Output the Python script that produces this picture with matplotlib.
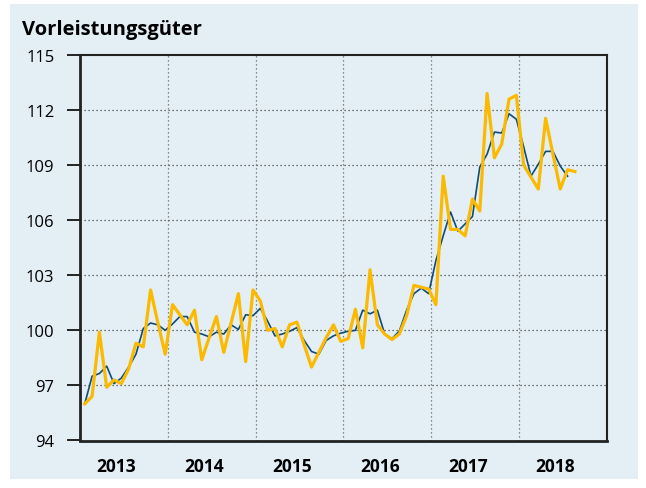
import numpy as np
import matplotlib.pyplot as plt
from matplotlib.patches import Rectangle

# monthly values, Jan 2013 .. Aug 2018 (yellow) and Jan 2013 .. Jul 2018 (blue)
monthly = [96.0, 96.4, 99.9, 96.9, 97.3, 97.1, 97.9, 99.3, 99.1, 102.2, 100.4, 98.7,
           101.4, 100.85, 100.3, 101.1, 98.4, 99.6, 100.75, 98.8, 100.4, 102.0, 98.3, 102.2,
           101.6, 100.0, 100.1, 99.1, 100.3, 100.45, 99.2, 98.0, 98.8, 99.6, 100.3, 99.4,
           99.55, 101.15, 99.05, 103.3, 100.3, 99.8, 99.5, 99.8, 100.8, 102.45, 102.35, 102.25,
           101.4, 108.4, 105.5, 105.5, 105.15, 107.15, 106.5, 112.9, 109.4, 110.15, 112.6, 112.8,
           109.0, 108.35, 107.7, 111.55, 109.6, 107.7, 108.75, 108.65]
trend = [96.0, 97.5, 97.65, 98.05, 97.1, 97.4, 98.0, 98.7, 100.1, 100.4, 100.3, 100.0,
         100.35, 100.75, 100.75, 99.9, 99.8, 99.65, 99.9, 99.8, 100.3, 100.05, 100.85, 100.8,
         101.2, 100.5, 99.7, 99.8, 99.95, 100.15, 99.45, 98.85, 98.7, 99.45, 99.7, 99.85,
         99.95, 100.0, 101.1, 100.9, 101.1, 99.8, 99.55, 99.96, 101.1, 102.0, 102.3, 102.0,
         103.8, 105.15, 106.45, 105.4, 105.8, 106.2, 108.9, 109.6, 110.8, 110.75, 111.8, 111.5,
         110.0, 108.4, 109.05, 109.75, 109.75, 108.95, 108.4]
years = ["2013", "2014", "2015", "2016", "2017", "2018"]
y_ticks = [94, 97, 100, 103, 106, 109, 112, 115]

bg = "#e3eef5"
yellow = "#fbb900"
blue = "#0f4c7c"

plt.rcParams["font.family"] = ["Open Sans", "DejaVu Sans"]

fig = plt.figure(figsize=(6.46, 4.89), dpi=100)
fig.patches.append(Rectangle((10 / 646, 1 - 480 / 489), 628 / 646, 475 / 489,
                             transform=fig.transFigure, facecolor=bg, edgecolor="none", zorder=-10))

ax = fig.add_axes([80 / 646, 1 - 441.5 / 489, 526.7 / 646, 385.5 / 489])
ax.set_facecolor("none")

# x in months from 1 Jan 2013
x_m = np.arange(len(monthly)) + 0.65
x_t = np.arange(len(trend)) + 0.65
ax.plot(x_t, trend, color=blue, lw=1.2, zorder=3)
ax.plot(x_m, monthly, color=yellow, lw=2.3, zorder=4)

ax.set_xlim(0, 72)
ax.set_ylim(94, 115)
ax.set_yticks(y_ticks)
ax.set_yticklabels([str(v) for v in y_ticks], fontsize=12)
ax.tick_params(axis="y", length=9.5, width=1.4, pad=9, color="#222222")

ax.set_xticks([5.0 + 12 * k for k in range(len(years))])
ax.set_xticklabels(years, fontsize=12.5, fontweight="bold")
ax.tick_params(axis="x", length=0, pad=12)

for yv in y_ticks[1:-1]:
    ax.axhline(yv, color="#444444", lw=0.9, ls=(0, (1, 2.2)), zorder=1)
for k in range(1, 6):
    ax.axvline(12 * k, color="#666666", lw=0.9, ls=(0, (1, 2.2)), zorder=1)

for s in ax.spines.values():
    s.set_linewidth(1.5)
    s.set_color("#222222")
ax.spines["left"].set_linewidth(2)
ax.spines["bottom"].set_linewidth(2)

fig.text(22 / 646, 1 - 30 / 489, "Vorleistungsgüter", fontsize=14.5, fontweight="bold",
         va="center", ha="left")

fig.savefig("out.png", dpi=100)
